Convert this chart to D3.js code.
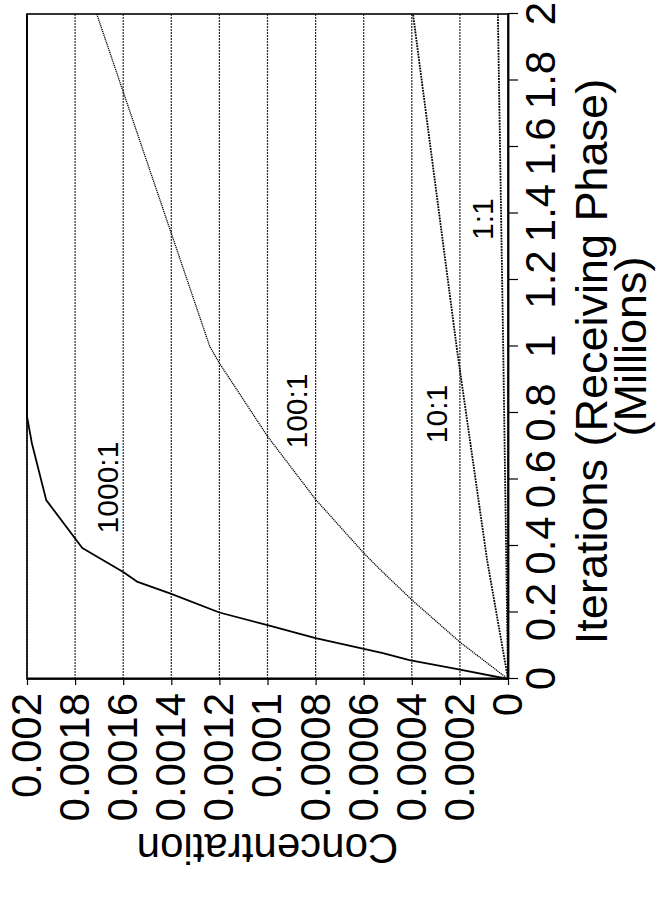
<!DOCTYPE html>
<html>
<head>
<meta charset="utf-8">
<script src="https://cdn.jsdelivr.net/npm/d3@7"></script>
<style>
  html, body { margin: 0; padding: 0; background: #fff; }
  svg { display: block; }
  text { font-family: "Liberation Sans", Arial, Helvetica, sans-serif; fill: #000; }
</style>
</head>
<body>
<svg id="chart" width="659" height="902"></svg>
<script>
// Concentration in the receiving phase vs. iterations, one series per ratio.
const ratios = ["1000:1", "100:1", "10:1", "1:1"];

// Iterations (millions) and concentration for each ratio
const iter1000 = [0, 0.03, 0.057, 0.078, 0.123, 0.162, 0.2, 0.256, 0.292, 0.322, 0.394, 0.538, 0.71, 0.79, 2.0];
const conc1000 = [0, 0.00021, 0.00041, 0.00052, 0.0008, 0.001, 0.0012, 0.0014, 0.00154, 0.0016, 0.00177, 0.00192, 0.00198, 0.002, 0.002];

const iter100 = [0, 0.111, 0.238, 0.328, 0.379, 0.54, 0.73, 0.95, 1.0, 2.0];
const conc100 = [0, 0.0002, 0.0004, 0.00053, 0.0006, 0.0008, 0.001, 0.0012, 0.00124, 0.00171];

const iter10 = [0, 0.358, 0.99, 2.0];
const conc10 = [0, 0.000087, 0.000212, 0.000395];

const iter1 = [0, 1.0, 2.0];
const conc1 = [0, 0.00002, 0.000042];

// Where each ratio is written on the plot (iterations, concentration)
const labelIter = [0.576, 0.806, 0.797, 1.383];
const labelConc = [0.001665, 0.000881, 0.000299, 0.000108];

// Axis ticks
const xTicks = [0, 0.2, 0.4, 0.6, 0.8, 1, 1.2, 1.4, 1.6, 1.8, 2];
const xTickLabels = ["0", "0.2", "0.4", "0.6", "0.8", "1", "1.2", "1.4", "1.6", "1.8", "2"];
const yTicks = [0, 0.0002, 0.0004, 0.0006, 0.0008, 0.001, 0.0012, 0.0014, 0.0016, 0.0018, 0.002];
const yTickLabels = ["0", "0.0002", "0.0004", "0.0006", "0.0008", "0.001", "0.0012", "0.0014", "0.0016", "0.0018", "0.002"];

const xTitle1 = "Iterations (Receiving Phase)";
const xTitle2 = "(Millions)";
const yTitle = "Concentration";

const series = [
  { name: ratios[0], iter: iter1000, conc: conc1000, width: 1.8, dash: null },
  { name: ratios[1], iter: iter100,  conc: conc100,  width: 1.3, dash: "1.2 0.8" },
  { name: ratios[2], iter: iter10,   conc: conc10,   width: 1.8, dash: "1.8 1" },
  { name: ratios[3], iter: iter1,    conc: conc1,    width: 1.8, dash: "1.8 1" }
];

const W = 665, H = 481;
const svg = d3.select("#chart");
svg.append("rect").attr("width", 659).attr("height", 902).attr("fill", "#fff");

// The whole figure is laid on its side: iterations run up the page.
const g = svg.append("g").attr("transform", "translate(27,679) rotate(-90)");

const x = d3.scaleLinear().domain([0, 2]).range([0, W]);
const y = d3.scaleLinear().domain([0, 0.002]).range([H, 0]);

// Horizontal grid at each concentration tick
g.append("g").selectAll("line")
  .data(yTicks.filter(v => v > 0))
  .join("line")
  .attr("x1", 0).attr("x2", W)
  .attr("y1", d => y(d)).attr("y2", d => y(d))
  .attr("stroke", "#2a2a2a")
  .attr("stroke-width", 1.2)
  .attr("stroke-dasharray", "2 1");

// Frame
g.append("rect")
  .attr("x", 0).attr("y", 0).attr("width", W).attr("height", H)
  .attr("fill", "none").attr("stroke", "#000").attr("stroke-width", 1.6);

// Series lines
const line = d3.line().x(d => x(d[0])).y(d => y(d[1]));
g.append("g").selectAll("path")
  .data(series)
  .join("path")
  .attr("d", s => line(s.iter.map((t, i) => [t, s.conc[i]])))
  .attr("fill", "none")
  .attr("stroke", "#000")
  .attr("stroke-width", s => s.width)
  .attr("stroke-dasharray", s => s.dash)
  .attr("stroke-linejoin", "round");

// Ratio labels
g.append("g").selectAll("text")
  .data(ratios)
  .join("text")
  .attr("x", (d, i) => x(labelIter[i]))
  .attr("y", (d, i) => y(labelConc[i]))
  .attr("dy", "0.35em")
  .attr("text-anchor", "middle")
  .attr("font-size", 30)
  .text(d => d);

// Axes
const xAxis = g.append("g")
  .attr("transform", `translate(0,${H})`)
  .call(d3.axisBottom(x).tickValues(xTicks).tickFormat((d, i) => xTickLabels[i])
    .tickSize(10).tickSizeOuter(0).tickPadding(7));
const yAxis = g.append("g")
  .call(d3.axisLeft(y).tickValues(yTicks).tickFormat((d, i) => yTickLabels[i])
    .tickSize(6).tickSizeOuter(0).tickPadding(8));

[xAxis, yAxis].forEach(a => {
  a.attr("font-family", null).attr("font-size", null);
  a.selectAll("text").attr("font-size", 42).style("fill", "#000");
  a.selectAll("line").attr("stroke", "#000").attr("stroke-width", 1.2);
  a.select(".domain").attr("stroke", "#000").attr("stroke-width", 1.8);
});

// Axis titles
g.append("text")
  .attr("x", W / 2 - 15).attr("y", H + 99)
  .attr("text-anchor", "middle").attr("font-size", 45)
  .text(xTitle1);
g.append("text")
  .attr("x", W / 2).attr("y", H + 138)
  .attr("text-anchor", "middle").attr("font-size", 45)
  .text(xTitle2);
g.append("text")
  .attr("transform", `translate(-170,${H / 2}) rotate(-90)`)
  .attr("dy", "0.35em")
  .attr("text-anchor", "middle").attr("font-size", 42)
  .text(yTitle);
</script>
</body>
</html>
